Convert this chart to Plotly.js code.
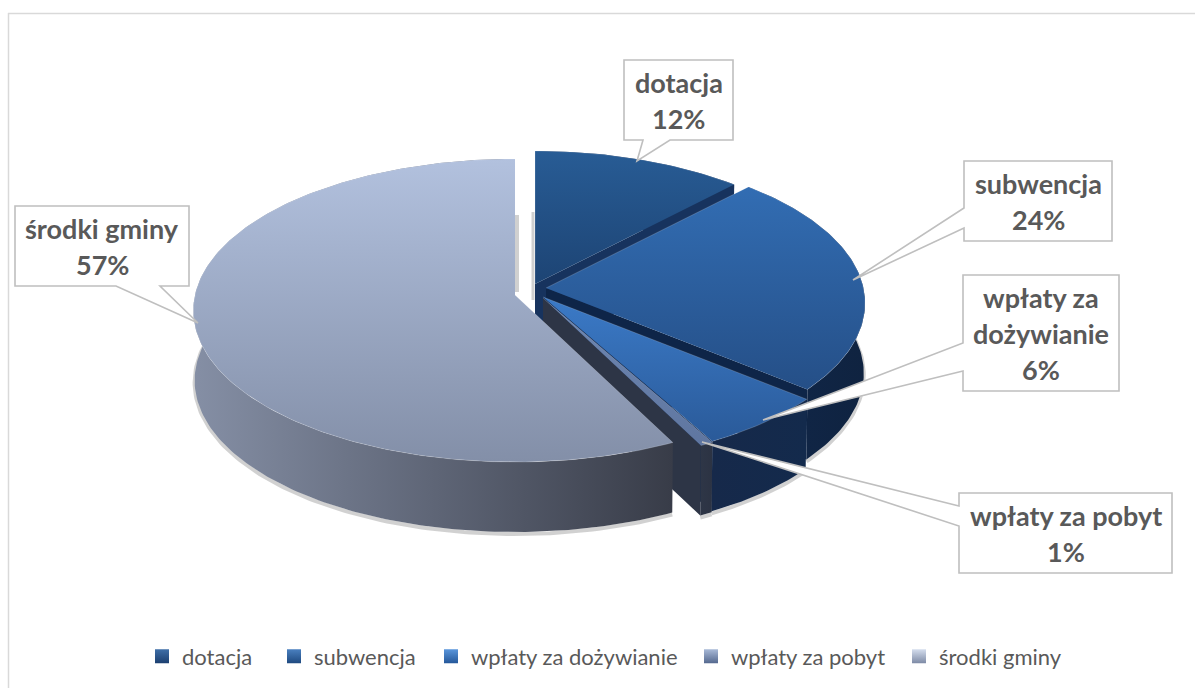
<!DOCTYPE html>
<html><head><meta charset="utf-8">
<script src="https://cdn.plot.ly/plotly-3.0.1.min.js"></script>
<style>html,body{margin:0;padding:0;background:#fff}#c{width:1195px;height:688px}</style>
</head><body><div id="c"></div>
<script>
const categories = ['dotacja','subwencja','wpłaty za dożywianie','wpłaty za pobyt','środki gminy'];
const values = [12,24,6,0.6,57.4];
const labelLines = [['dotacja','12%'],['subwencja','24%'],['wpłaty za','dożywianie','6%'],['wpłaty za pobyt','1%'],['środki gminy','57%']];
const apexX = [535,546,543,543,515];
const apexY = [284,288,297,298,295];
const sliceScale = [0.975,0.992,1,1,1];
const topColors = [['#1d4474','#285c95'],['#254f87','#326db3'],['#2a5a99','#3b7ac7'],['#5f76a0','#6f88b2'],['#838fa8','#b2c1de']];
const wallColors = [['#163059','#163059'],['#11274a','#0f2340'],['#16294a','#132a4c'],['#2e3647','#2c3343'],['#858fa5','#383c48']];
const cutColors = ['#17335e','#0e2548','#10264a','#2d3546',null];
const legendColors = [['#1c3f70','#3f6fa8'],['#1f4a80','#4a80c0'],['#25589a','#5a96dc'],['#55698f','#a9bad8'],['#7e8ba6','#d5deee']];
const legendLeft = [164,296,453,713,921];
const boxes = [[624,60,733,140],[964,161,1112,241],[963,275,1119,391],[959,493,1172,573],[15,206,189,286]];
const tails = [[[643,140],[637,161],[670,140]],[[964,208],[853,280],[964,228]],[[963,343],[763,420],[963,371]],[[959,506],[702,442],[959,526]],[[116,286],[198,323],[160,286]]];

const B=320, A=150, K=0.102, T=70, rad=Math.PI/180;
function pt(i,th,r,drop){
  const q=r*sliceScale[i], u=Math.sin(th*rad)*q, v=-Math.cos(th*rad)*q, d=1-K*v, n=drop?0.996:1;
  return [apexX[i]+n*B*u/d, apexY[i]+A*v/d+(drop?T:0)];
}
function arc(i,a,b,drop){const o=[];const n=Math.max(4,Math.round(Math.abs(b-a)));for(let j=0;j<=n;j++)o.push(pt(i,a+(b-a)*j/n,1,drop));return o;}
function poly(pts,colors,type,line,name){
  return {type:'scatter',mode:'lines',x:pts.map(p=>p[0]),y:pts.map(p=>p[1]),fill:'toself',
    fillgradient:{type:type,colorscale:[[0,colors[0]],[1,colors[1]]]},
    line:line||{width:0,color:'rgba(0,0,0,0)'},showlegend:false,hoverinfo:'skip',name:name};
}
const total=values.reduce((s,v)=>s+v,0);
const traces=[];
let cum=0;
const bounds=values.map(v=>{const a=cum;cum+=v/total*360;return [a,cum];});
bounds.forEach((b,i)=>{
  const s=arc(i,b[0],b[1],true).map(p=>[p[0],p[1]+2]);
  traces.push({type:'scatter',mode:'lines',x:s.map(p=>p[0]),y:s.map(p=>p[1]),line:{width:4,color:'rgba(90,90,90,0.28)'},showlegend:false,hoverinfo:'skip'});
});
traces.push({type:'scatter',mode:'lines',x:[apexX[0]-2,apexX[0]-2],y:[212,300],line:{width:3,color:'rgba(150,150,150,0.45)'},showlegend:false,hoverinfo:'skip'});
traces.push({type:'scatter',mode:'lines',x:[apexX[4]+2,apexX[4]+2],y:[215,292],line:{width:4,color:'rgba(150,150,150,0.45)'},showlegend:false,hoverinfo:'skip'});
bounds.forEach((b,i)=>{
  const th=(i===4)?b[0]:b[1];
  const topArc=arc(i,b[0],b[1],false), botArc=arc(i,b[0],b[1],true).reverse();
  traces.push(poly(topArc.concat(botArc),wallColors[i],'horizontal',null,categories[i]+' ściana'));
  if(cutColors[i]){
    const e=pt(i,th,1,false), e2=pt(i,th,1,true), a=pt(i,th,0,false), a2=pt(i,th,0,true);
    traces.push(poly([a,e,e2,a2],[cutColors[i],cutColors[i]],'horizontal',null,categories[i]+' przekrój'));
  }
  const surf=[pt(i,b[0],0,false)].concat(topArc);
  traces.push(poly(surf,topColors[i],'vertical',{width:1,color:'rgba(255,255,255,0.18)'},categories[i]));
});
const legends={};
categories.forEach((c,i)=>{
  const key=i===0?'legend':'legend'+(i+1);
  traces.push({type:'scatter',mode:'markers',x:[null],y:[null],name:c,hoverinfo:'skip',legend:key,showlegend:true,
    marker:{symbol:'square',size:14,color:legendColors[i][1],gradient:{type:'vertical',color:legendColors[i][0]}}});
  legends[key]={orientation:'h',x:(legendLeft[i]-22)/1195,xanchor:'left',y:0.046,yanchor:'middle',itemwidth:30,
    font:{family:'Lato, sans-serif',size:22,color:'#595959'},bgcolor:'rgba(0,0,0,0)'};
});
const shapes=[
 {type:'line',xref:'x',yref:'y',x0:8.5,x1:8.5,y0:13,y1:688,line:{color:'#d9d9d9',width:1.5}},
 {type:'line',xref:'x',yref:'y',x0:8,x1:1195,y0:13.5,y1:13.5,line:{color:'#d9d9d9',width:1.5}}
];
const annotations=[];
boxes.forEach((b,i)=>{
  const [x0,y0,x1,y1]=b, t=tails[i]; let path;
  const P=p=>p[0]+' '+p[1];
  if(i===0||i===4){ path=`M${x0} ${y0}L${x1} ${y0}L${x1} ${y1}L${P(t[2])}L${P(t[1])}L${P(t[0])}L${x0} ${y1}Z`; }
  else { path=`M${x0} ${y0}L${x1} ${y0}L${x1} ${y1}L${x0} ${y1}L${P(t[2])}L${P(t[1])}L${P(t[0])}Z`; }
  shapes.push({type:'path',xref:'x',yref:'y',path:path,fillcolor:'#fff',line:{color:'#bfbfbf',width:1.6},layer:'above'});
  const L=labelLines[i], cy=(y0+y1)/2;
  L.forEach((s,j)=>annotations.push({xref:'x',yref:'y',x:(x0+x1)/2,y:cy+(j-(L.length-1)/2)*36,text:'<b>'+s+'</b>',showarrow:false,
    xanchor:'center',yanchor:'middle',font:{family:'Lato, sans-serif',size:27,color:'#595959'}}));
});
Plotly.newPlot('c',traces,Object.assign({
  width:1195,height:688,margin:{l:0,r:0,t:0,b:0},paper_bgcolor:'#fff',plot_bgcolor:'#fff',
  xaxis:{range:[0,1195],visible:false,fixedrange:true},
  yaxis:{range:[688,0],visible:false,fixedrange:true},
  showlegend:true,
  shapes:shapes,annotations:annotations
},legends),{displayModeBar:false,staticPlot:true});
</script></body></html>
